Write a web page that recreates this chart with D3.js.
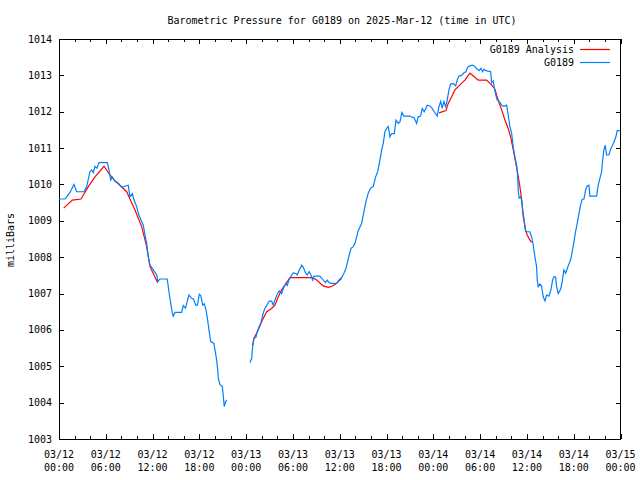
<!DOCTYPE html>
<html>
<head>
<meta charset="utf-8">
<script src="https://cdn.jsdelivr.net/npm/d3@7"></script>
<style>
  html, body { margin: 0; padding: 0; background: #fff; }
  svg { display: block; }
  text { font-family: "DejaVu Sans Mono", "Liberation Mono", monospace; font-size: 10px; fill: #000; }
</style>
</head>
<body>
<script>
// ---- Data (hours since 2025-03-12 00:00 UTC, pressure in mb) ----
const chartTitle = "Barometric Pressure for G0189 on 2025-Mar-12 (time in UTC)";
const yAxisLabel = "milliBars";
const seriesNames = ["G0189 Analysis", "G0189"];
const yTickValues = [1003, 1004, 1005, 1006, 1007, 1008, 1009, 1010, 1011, 1012, 1013, 1014];
const xTickHours = [0, 6, 12, 18, 24, 30, 36, 42, 48, 54, 60, 66, 72];

const stationHours = [
  0, 0.77, 0.99, 1.41, 1.92, 2.27, 3.21, 3.55, 3.97, 4.19, 4.40, 4.62, 4.87, 5.13, 6.19, 6.41, 6.63, 6.86, 7.18, 7.56,
  8.04, 8.46, 8.88, 9.10, 9.40, 9.62, 9.96, 10.17, 10.51, 10.81, 11.03, 11.24, 11.45, 11.67, 11.96, 12.31, 12.56, 12.65, 12.95, 13.88,
  14.10, 14.32, 14.53, 14.65, 14.87, 15.73, 15.94, 16.22, 16.37, 16.67, 17.01, 17.24, 17.53, 17.76, 17.99, 18.21, 18.42, 18.63, 18.85, 19.06,
  19.23, 19.45, 19.87, 20.00, 20.22, 20.35, 20.42, 20.64, 20.94, 21.06, 21.19, 21.32, 21.50,
  23.0,
  24.49, 24.71, 24.83, 25.00, 25.26, 25.42, 25.68, 25.90, 26.12, 26.32, 26.63, 26.96, 27.27, 27.47, 27.69, 27.99, 28.24, 28.55, 28.76, 29.06,
  29.27, 29.49, 29.83, 30.04, 30.38, 30.55, 30.81, 31.12, 31.32, 31.63, 31.83, 32.09, 32.31, 32.53, 32.69, 33.46, 33.68, 33.88, 34.19, 34.40,
  34.62, 34.83, 35.60, 35.81, 36.24, 36.54, 36.79, 37.01, 37.22, 37.44, 37.73, 37.95, 38.17, 38.37, 38.81, 39.10, 39.36, 39.65, 39.96, 40.29,
  40.60, 40.86, 41.15, 41.37, 41.58, 41.79, 42.01, 42.22, 42.44, 42.65, 42.99, 43.21, 43.50, 43.72, 43.97, 44.23, 45.00, 45.26, 45.51, 45.86,
  46.06, 46.37, 46.58, 46.83, 47.22, 47.56, 47.82, 48.12, 48.50, 48.72, 48.94, 49.14, 49.36, 49.58, 49.78, 50.00, 50.22, 50.55, 50.86, 51.06,
  51.28, 51.63, 51.92, 52.18, 52.40, 52.69, 52.99, 53.24, 53.55, 53.88, 54.10, 54.32, 54.49, 54.74, 55.35, 55.47, 55.68, 55.90, 56.19, 56.45,
  56.76, 57.05, 57.40, 57.60, 57.82, 58.04, 58.24, 58.46, 58.68, 58.81, 58.88, 59.01, 59.19, 59.36, 59.45, 59.62, 59.74, 59.83, 60.38, 60.60,
  60.81, 61.03, 61.24, 61.32, 61.45, 61.67, 61.88, 62.09, 62.31, 62.53, 62.82, 63.08, 63.29, 63.46, 63.68, 63.81, 64.01, 64.32, 64.53, 64.74,
  64.96, 65.17, 65.42, 65.60, 65.81, 66.03, 66.24, 66.45, 66.67, 66.88, 67.09, 67.31, 67.53, 67.73, 67.95, 68.08, 68.94, 69.14, 69.36, 69.58,
  69.71, 69.87, 70.04, 70.22, 70.51, 70.73, 70.99, 71.19, 71.41, 71.58, 71.92
];
const stationValues = [
  1009.6, 1009.6, 1009.66, 1009.78, 1010.0, 1009.8, 1009.8, 1009.94, 1010.35, 1010.4, 1010.33, 1010.5, 1010.45, 1010.6, 1010.6, 1010.4, 1010.12, 1010.2, 1010.08, 1010.05,
  1009.92, 1009.95, 1009.98, 1009.66, 1009.75, 1009.57, 1009.39, 1009.2, 1009.02, 1008.88, 1008.6, 1008.38, 1008.01, 1007.78, 1007.69, 1007.58, 1007.5, 1007.33, 1007.4, 1007.4,
  1007.05, 1006.73, 1006.46, 1006.38, 1006.48, 1006.48, 1006.67, 1006.6, 1006.73, 1006.96, 1006.87, 1006.85, 1006.68, 1006.68, 1006.98, 1006.93, 1006.68, 1006.72, 1006.55, 1006.27,
  1006.0, 1005.68, 1005.63, 1005.45, 1005.17, 1004.9, 1004.67, 1004.5, 1004.44, 1004.21, 1003.89, 1004.0, 1004.07,
  null,
  1005.1, 1005.22, 1005.54, 1005.77, 1005.8, 1005.95, 1006.1, 1006.2, 1006.41, 1006.55, 1006.68, 1006.79, 1006.79, 1006.68, 1006.82, 1006.99, 1007.07, 1007.0, 1007.14, 1007.28,
  1007.22, 1007.37, 1007.51, 1007.57, 1007.55, 1007.51, 1007.65, 1007.78, 1007.72, 1007.56, 1007.51, 1007.6, 1007.51, 1007.37, 1007.48, 1007.48, 1007.42, 1007.37, 1007.3, 1007.37,
  1007.3, 1007.28, 1007.28, 1007.35, 1007.44, 1007.56, 1007.69, 1007.88, 1008.06, 1008.24, 1008.29, 1008.38, 1008.56, 1008.73, 1008.93, 1009.25, 1009.53, 1009.76, 1009.9, 1009.94,
  1010.21, 1010.35, 1010.67, 1010.95, 1011.13, 1011.45, 1011.54, 1011.59, 1011.31, 1011.4, 1011.4, 1011.77, 1011.68, 1011.72, 1011.98, 1011.88, 1011.88, 1011.85, 1011.84, 1011.68,
  1011.86, 1011.88, 1012.09, 1012.0, 1012.18, 1012.16, 1012.1, 1012.0, 1011.88, 1012.14, 1012.28, 1012.1, 1012.28, 1012.14, 1012.32, 1012.6, 1012.76, 1012.78, 1012.71, 1012.87,
  1012.98, 1013.0, 1013.07, 1013.1, 1013.22, 1013.26, 1013.28, 1013.26, 1013.19, 1013.13, 1013.19, 1013.1, 1013.17, 1013.13, 1013.1, 1012.8, 1012.85, 1012.55, 1012.32, 1012.28,
  1012.18, 1012.15, 1012.18, 1011.91, 1011.59, 1011.41, 1011.04, 1010.76, 1010.53, 1010.25, 1009.85, 1009.62, 1009.66, 1009.53, 1009.3, 1009.07, 1008.84, 1008.7, 1008.7, 1008.56,
  1008.33, 1008.01, 1007.74, 1007.37, 1007.19, 1007.26, 1007.2, 1006.91, 1006.8, 1006.96, 1006.93, 1007.1, 1007.37, 1007.46, 1007.46, 1007.19, 1007.0, 1007.12, 1007.33, 1007.65,
  1007.56, 1007.69, 1007.83, 1007.92, 1008.15, 1008.42, 1008.7, 1008.93, 1009.2, 1009.43, 1009.59, 1009.6, 1009.85, 1009.96, 1009.98, 1009.68, 1009.68, 1009.98, 1010.17, 1010.35,
  1010.67, 1010.95, 1011.08, 1010.81, 1010.81, 1010.97, 1011.08, 1011.18, 1011.31, 1011.48, 1011.48
];

const analysisHours = [
  0.6, 1.71, 2.82, 3.76, 4.62, 5.77, 6.54, 7.18, 7.95, 8.68, 9.10, 9.74, 10.60, 11.24, 11.67, 12.18, 12.65,
  18.0,
  24.83, 25.00, 25.55, 25.99, 26.63, 27.27, 27.69, 28.12, 28.55, 28.97, 29.62, 32.53, 33.04, 33.88, 34.53, 35.00, 35.60, 36.24,
  42.0,
  48.72, 49.62, 49.91, 50.35, 50.77, 51.41, 52.05, 52.69, 53.33, 53.76, 54.83, 55.47, 55.90, 56.19, 56.45, 56.76, 57.18, 57.60,
  57.91, 58.17, 58.46, 58.81, 59.10, 59.32, 59.53, 59.83, 60.04, 60.38, 60.60
];
const analysisValues = [
  1009.35, 1009.57, 1009.6, 1009.94, 1010.21, 1010.5, 1010.26, 1010.1, 1009.95, 1009.8, 1009.6, 1009.3, 1008.84, 1008.29, 1007.74, 1007.51, 1007.3,
  null,
  1005.58, 1005.77, 1006.0, 1006.23, 1006.5, 1006.59, 1006.68, 1006.91, 1007.1, 1007.23, 1007.44, 1007.44, 1007.37, 1007.21, 1007.17, 1007.2, 1007.28, 1007.42,
  null,
  1011.97, 1012.03, 1012.23, 1012.41, 1012.6, 1012.74, 1012.87, 1013.06, 1012.95, 1012.87, 1012.87, 1012.74, 1012.62, 1012.41, 1012.23, 1012.05, 1011.77, 1011.54,
  1011.31, 1011.04, 1010.72, 1010.31, 1009.94, 1009.6, 1009.11, 1008.75, 1008.61, 1008.47, 1008.41
];

// ---- Layout ----
const W = 640, H = 480;
const plot = { left: 59, right: 620.5, top: 39, bottom: 439 };
const t0 = Date.UTC(2025, 2, 12, 0, 0);
const toDate = h => new Date(t0 + h * 3600e3);

const svg = d3.select("body").append("svg").attr("width", W).attr("height", H);

const x = d3.scaleUtc().domain([toDate(0), toDate(72)]).range([plot.left, plot.right]);
const y = d3.scaleLinear().domain([1003, 1014]).range([plot.bottom, plot.top]);

const axisG = svg.append("g").attr("shape-rendering", "crispEdges");

// Major x ticks (bottom & top, inward)
const majorTicks = xTickHours.map(toDate);
const minorTicks = d3.range(0, 73, 2).filter(h => h % 6 !== 0).map(toDate);

function styleAxis(g) {
  g.select(".domain").remove();
  g.selectAll("line").attr("stroke", "#000");
}

axisG.append("g").attr("transform", `translate(0,${plot.bottom})`)
  .call(d3.axisBottom(x).tickValues(majorTicks).tickSize(-5).tickFormat(""))
  .call(styleAxis);
axisG.append("g").attr("transform", `translate(0,${plot.bottom})`)
  .call(d3.axisBottom(x).tickValues(minorTicks).tickSize(-3).tickFormat(""))
  .call(styleAxis);
axisG.append("g").attr("transform", `translate(0,${plot.top})`)
  .call(d3.axisTop(x).tickValues(majorTicks).tickSize(-5).tickFormat(""))
  .call(styleAxis);
axisG.append("g").attr("transform", `translate(0,${plot.top})`)
  .call(d3.axisTop(x).tickValues(minorTicks).tickSize(-3).tickFormat(""))
  .call(styleAxis);

// y ticks left & right
axisG.append("g").attr("transform", `translate(${plot.left},0)`)
  .call(d3.axisLeft(y).tickValues(yTickValues).tickSize(-5).tickFormat(""))
  .call(styleAxis);
axisG.append("g").attr("transform", `translate(${plot.right},0)`)
  .call(d3.axisRight(y).tickValues(yTickValues).tickSize(-5).tickFormat(""))
  .call(styleAxis);

// Frame
axisG.append("rect")
  .attr("x", plot.left).attr("y", plot.top)
  .attr("width", plot.right - plot.left).attr("height", plot.bottom - plot.top)
  .attr("fill", "none").attr("stroke", "#000");

// Y tick labels
svg.append("g").selectAll("text").data(yTickValues).join("text")
  .attr("x", plot.left - 7).attr("y", d => y(d) + 3.5)
  .attr("text-anchor", "end").text(d => d);

// X tick labels (two lines)
const fmtDate = d3.utcFormat("%m/%d"), fmtTime = d3.utcFormat("%H:%M");
const xl = svg.append("g").selectAll("text").data(majorTicks).join("text")
  .attr("text-anchor", "middle");
xl.append("tspan").attr("x", d => x(d)).attr("y", 458).text(d => fmtDate(d));
xl.append("tspan").attr("x", d => x(d)).attr("y", 471).text(d => fmtTime(d));

// Title
svg.append("text").attr("x", 342).attr("y", 23.5).attr("text-anchor", "middle").text(chartTitle);

// Y axis label
svg.append("text").attr("transform", "translate(14,240) rotate(-90)")
  .attr("text-anchor", "middle").text(yAxisLabel);

// Lines
const clip = svg.append("clipPath").attr("id", "clip").append("rect")
  .attr("x", plot.left).attr("y", plot.top)
  .attr("width", plot.right - plot.left).attr("height", plot.bottom - plot.top);

const line = d3.line()
  .defined(d => d[1] !== null)
  .x(d => x(toDate(d[0])))
  .y(d => y(d[1]));

const analysis = analysisHours.map((h, i) => [h, analysisValues[i]]);
const station = stationHours.map((h, i) => [h, stationValues[i]]);

const colors = ["#ff0000", "#0080ff"];

svg.append("path").datum(analysis).attr("d", line)
  .attr("fill", "none").attr("stroke", colors[0]).attr("stroke-width", 1.2)
  .attr("clip-path", "url(#clip)");
svg.append("path").datum(station).attr("d", line)
  .attr("fill", "none").attr("stroke", colors[1]).attr("stroke-width", 1.2)
  .attr("clip-path", "url(#clip)");

// Legend
const legend = svg.append("g");
seriesNames.forEach((name, i) => {
  const ly = 49.5 + i * 13;
  legend.append("text").attr("x", 574).attr("y", ly + 3.5).attr("text-anchor", "end").text(name);
  legend.append("line").attr("x1", 580).attr("x2", 610).attr("y1", ly).attr("y2", ly)
    .attr("stroke", colors[i]).attr("stroke-width", 1.2);
});
</script>
</body>
</html>
